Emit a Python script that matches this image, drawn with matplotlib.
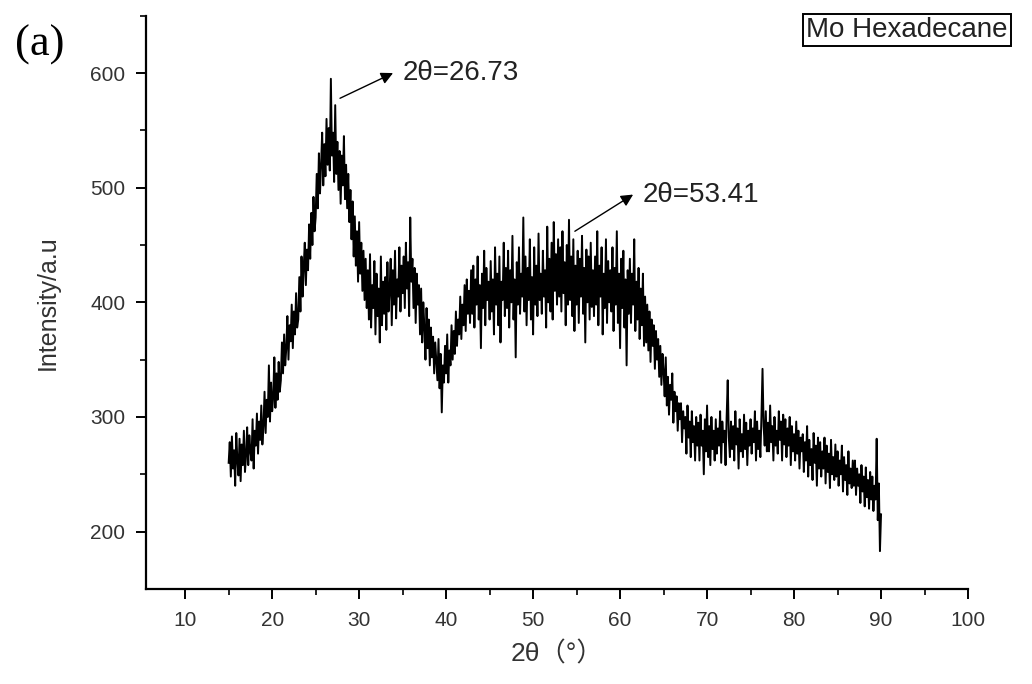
import numpy as np
import matplotlib
matplotlib.use("Agg")
import matplotlib.pyplot as plt

plt.rcParams['font.family'] = ['Liberation Sans', 'Noto Sans CJK SC', 'DejaVu Sans']

# XRD scan, 2theta from 15 to 90 deg in 0.125 deg steps
two_theta_start = 15.0
two_theta_step = 0.125
intensity = [
    # 15-17
    260, 278, 248, 283, 255, 271, 240, 286, 262, 249, 281, 244, 276, 258, 288, 252,
    # 17-19
    266, 291, 258, 284, 270, 262, 298, 255, 288, 275, 303, 268, 296, 280, 310, 276,
    # 19-21
    292, 322, 286, 315, 300, 345, 296, 330, 305, 318, 352, 308, 338, 315, 348, 322,
    # 21-23
    332, 365, 338, 372, 345, 360, 388, 350, 380, 366, 398, 360, 392, 372, 408, 378,
    # 23-25
    385, 422, 392, 440, 405, 430, 452, 415, 446, 428, 468, 438, 478, 450, 492, 462,
    # 25-27
    474, 512, 482, 530, 495, 520, 548, 502, 538, 510, 560, 520, 552, 515, 595, 528,
    # 27-29
    548, 505, 572, 512, 540, 498, 532, 486, 528, 502, 545, 490, 520, 482, 512, 470,
    # 29-31
    498, 455, 488, 440, 475, 432, 462, 418, 470, 425, 452, 410, 445, 402, 438, 395,
    # 31-33
    428, 385, 442, 378, 415, 395, 436, 372, 425, 388, 412, 365, 440, 380, 418, 390,
    # 33-35
    422, 376, 435, 392, 410, 438, 380, 428, 398, 445, 386, 420, 405, 448, 392, 432,
    # 35-37
    408, 440, 395, 452, 412, 435, 388, 474, 418, 438, 395, 430, 382, 425, 398, 415,
    # 37-39
    372, 412, 365, 400, 378, 350, 395, 360, 385, 345, 378, 352, 370, 338, 365, 348,
    # 39-41
    332, 368, 325, 355, 304, 345, 330, 362, 338, 372, 330, 358, 345, 380, 350, 375,
    # 41-43
    355, 392, 362, 385, 372, 405, 368, 398, 380, 415, 375, 420, 390, 410, 382, 428,
    # 43-45
    390, 432, 378, 420, 398, 440, 385, 415, 360, 425, 395, 445, 380, 430, 402, 418,
    # 45-47
    385, 436, 392, 420, 372, 448, 398, 425, 380, 440, 365, 418, 402, 452, 388, 430,
    # 47-49
    395, 445, 378, 428, 400, 458, 385, 420, 352, 435, 398, 448, 390, 425, 405, 474,
    # 49-51
    392, 440, 380, 430, 402, 455, 385, 422, 372, 448, 398, 432, 388, 460, 402, 425,
    # 51-53
    390, 445, 405, 428, 378, 466, 400, 438, 392, 452, 385, 470, 410, 442, 398, 455,
    # 53-55
    405, 448, 392, 462, 408, 435, 380, 450, 398, 472, 402, 440, 388, 455, 375, 432,
    # 55-57
    398, 445, 382, 438, 405, 458, 390, 430, 365, 446, 400, 440, 385, 452, 396, 428,
    # 57-59
    388, 440, 398, 462, 380, 432, 405, 448, 372, 425, 395, 455, 382, 436, 400, 428,
    # 59-61
    392, 448, 375, 430, 398, 462, 382, 425, 360, 438, 395, 445, 378, 420, 345, 428,
    # 61-63
    390, 438, 382, 425, 398, 455, 375, 418, 385, 430, 368, 412, 380, 425, 362, 405,
    # 63-65
    365, 398, 358, 392, 348, 385, 362, 380, 342, 375, 350, 368, 335, 362, 328, 355,
    # 65-67
    340, 318, 352, 310, 335, 302, 328, 315, 338, 295, 322, 305, 318, 288, 312, 298,
    # 67-69
    312, 278, 305, 290, 300, 268, 310, 282, 296, 265, 305, 278, 292, 262, 300, 275,
    # 69-71
    295, 262, 302, 275, 288, 250, 298, 270, 310, 265, 292, 258, 300, 272, 288, 262,
    # 71-73
    298, 268, 290, 275, 305, 260, 296, 278, 288, 258, 300, 332, 282, 265, 296, 272,
    # 73-75
    292, 262, 305, 276, 290, 255, 298, 270, 285, 265, 302, 272, 295, 258, 288, 275,
    # 75-77
    298, 268, 290, 278, 305, 262, 296, 272, 288, 265, 300, 342, 292, 275, 305, 270,
    # 77-79
    295, 270, 310, 278, 292, 262, 300, 275, 288, 268, 305, 280, 296, 262, 302, 276,
    # 79-81
    298, 265, 290, 275, 300, 258, 292, 270, 285, 262, 296, 268, 288, 255, 282, 270,
    # 81-83
    285, 252, 278, 262, 292, 248, 280, 258, 272, 245, 286, 260, 275, 240, 282, 255,
    # 83-85
    278, 248, 270, 255, 282, 242, 275, 252, 268, 238, 280, 250, 265, 245, 276, 248,
    # 85-87
    270, 240, 262, 250, 275, 235, 265, 245, 258, 232, 270, 242, 255, 238, 262, 240,
    # 87-89
    262, 232, 255, 240, 250, 225, 258, 235, 248, 222, 256, 230, 245, 220, 252, 228,
    # 89-90
    248, 218, 240, 228, 281, 210, 242, 183, 215,
]
two_theta = two_theta_start + two_theta_step * np.arange(len(intensity))

# peak markers: (label, arrow start, arrow end / text anchor)
peak_labels = ["2\u03b8=26.73", "2\u03b8=53.41"]
peak_from = [(27.8, 578), (54.8, 462)]
peak_to = [(33.9, 600), (61.5, 494)]

fig = plt.figure(figsize=(10.32, 6.84), dpi=100)
ax = fig.add_axes([0.1415, 0.139, 0.7965, 0.838])

ax.plot(two_theta, intensity, color='black', lw=1.4)

ax.set_xlim(5.5, 100)
ax.set_ylim(150, 650)
ax.set_xticks(np.arange(10, 101, 10))
ax.set_xticks(np.arange(15, 100, 10), minor=True)
ax.set_yticks(np.arange(200, 601, 100))
ax.set_yticks(np.arange(250, 651, 100), minor=True)

for side in ['top', 'right']:
    ax.spines[side].set_visible(False)
for side in ['left', 'bottom']:
    ax.spines[side].set_linewidth(1.6)

ax.tick_params(which='major', direction='out', length=7, width=1.4,
               labelsize=15, colors='black', labelcolor='#333333')
ax.tick_params(which='minor', direction='out', length=4, width=1.2)
ax.tick_params(axis='x', pad=9)
ax.tick_params(axis='y', pad=8)

ax.set_xlabel("2\u03b8\uff08\u00b0\uff09", fontsize=19, color='#333333', labelpad=8)
ax.set_ylabel("Intensity/a.u", fontsize=18, color='#333333', labelpad=22)

for label, start, end in zip(peak_labels, peak_from, peak_to):
    ax.annotate('', xy=end, xytext=start,
                arrowprops=dict(arrowstyle='-|>', color='black', lw=1.0,
                                mutation_scale=18, shrinkA=0, shrinkB=0))
    ax.text(end[0] + 1.1, end[1], label, fontsize=20, va='center', ha='left',
            color='#222222')

fig.text(0.0145, 0.935, "(a)", fontsize=32, family='Liberation Serif',
         va='center', ha='left')
fig.text(0.879, 0.956, "Mo Hexadecane", fontsize=20, va='center', ha='center',
         color='#222222',
         bbox=dict(boxstyle='square,pad=0.12', facecolor='white',
                   edgecolor='black', lw=1.4))

fig.savefig("out.png", dpi=100)
